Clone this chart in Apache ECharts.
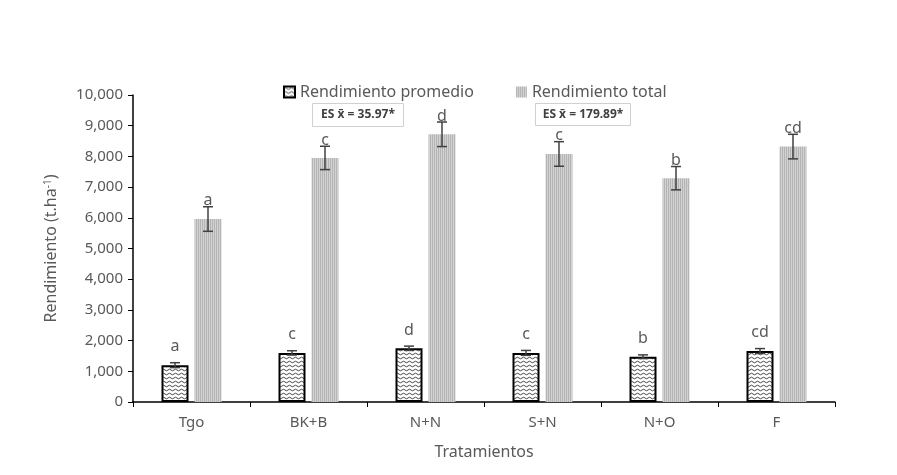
<!DOCTYPE html>
<html>
<head>
<meta charset="utf-8">
<script src="https://cdn.jsdelivr.net/npm/echarts@6/dist/echarts.min.js"></script>
<style>
  html, body { margin: 0; padding: 0; background: #fff; }
  #chart { width: 897px; height: 475px; }
</style>
</head>
<body>
<div id="chart"></div>
<script>
// datos
const categories = ['Tgo', 'BK+B', 'N+N', 'S+N', 'N+O', 'F'];
const promedio = [1200, 1600, 1750, 1600, 1475, 1660];
const promedioErr = [80, 70, 70, 80, 60, 80];
const total = [5960, 7950, 8720, 8080, 7290, 8320];
const totalErr = [400, 380, 400, 400, 380, 400];
const promedioLetters = ['a', 'c', 'd', 'c', 'b', 'cd'];
const totalLetters = ['a', 'c', 'd', 'c', 'b', 'cd'];
const yTicks = [0, 1000, 2000, 3000, 4000, 5000, 6000, 7000, 8000, 9000, 10000];

const FONT = 'Noto Sans';
const GREY = '#595959';

// patron ondulado (rendimiento promedio)
function wavyPattern() {
  const c = document.createElement('canvas');
  c.width = 6; c.height = 4;
  const ctx = c.getContext('2d');
  ctx.fillStyle = '#fff';
  ctx.fillRect(0, 0, 6, 4);
  ctx.strokeStyle = '#333';
  ctx.lineWidth = 0.9;
  ctx.beginPath();
  ctx.moveTo(0, 2);
  ctx.quadraticCurveTo(1.5, 0.4, 3, 2);
  ctx.quadraticCurveTo(4.5, 3.6, 6, 2);
  ctx.stroke();
  return c;
}
// patron de rayas verticales (rendimiento total)
function stripePattern() {
  const c = document.createElement('canvas');
  c.width = 2; c.height = 2;
  const ctx = c.getContext('2d');
  ctx.fillStyle = '#d2d2d2';
  ctx.fillRect(0, 0, 2, 2);
  ctx.fillStyle = '#b4b4b4';
  ctx.fillRect(0, 0, 1, 2);
  return c;
}

var chartDom = document.getElementById('chart');
var myChart = echarts.init(chartDom);

const barW = 27;
const gapPx = 6;
const off = (barW + gapPx) / 2;

function errorRender(dx, letters, labelLift) {
  return function (params, api) {
    const i = api.value(0);
    const v = api.value(1);
    const e = api.value(2);
    const top = api.coord([i, v + e]);
    const bot = api.coord([i, v - e]);
    const x = top[0] + dx;
    const st = { stroke: '#404040', lineWidth: 1.5 };
    return {
      type: 'group',
      children: [
        { type: 'line', shape: { x1: x, y1: top[1], x2: x, y2: bot[1] }, style: st },
        { type: 'line', shape: { x1: x - 5, y1: top[1], x2: x + 5, y2: top[1] }, style: st },
        { type: 'line', shape: { x1: x - 5, y1: bot[1], x2: x + 5, y2: bot[1] }, style: st },
        {
          type: 'text', x: x, y: top[1] - labelLift,
          style: { text: letters[params.dataIndex], align: 'center', verticalAlign: 'middle',
                   fill: GREY, font: '16px "' + FONT + '"' }
        }
      ]
    };
  };
}

var option = {
  animation: false,
  textStyle: { fontFamily: FONT },
  legend: {
    top: 79,
    left: 278,
    icon: 'rect',
    itemWidth: 11,
    itemHeight: 11,
    itemGap: 42,
    textStyle: { fontSize: 16, color: GREY, fontFamily: FONT },
    data: ['Rendimiento promedio', 'Rendimiento total']
  },
  grid: { left: 133, right: 62, top: 95, bottom: 73 },
  xAxis: {
    type: 'category',
    data: categories,
    name: 'Tratamientos',
    nameLocation: 'middle',
    nameGap: 42,
    nameTextStyle: { fontSize: 16, color: GREY },
    axisLine: { lineStyle: { color: '#000', width: 1.5 } },
    axisTick: { show: true, length: 5, lineStyle: { color: '#000' } },
    axisLabel: { fontSize: 15, color: GREY, margin: 13 }
  },
  yAxis: {
    type: 'value',
    min: yTicks[0],
    max: yTicks[yTicks.length - 1],
    interval: 1000,
    name: '{n|Rendimiento (t.ha}{s|-1}{n|)}',
    nameLocation: 'middle',
    nameGap: 74,
    nameTextStyle: {
      fontSize: 16, color: GREY,
      rich: {
        n: { fontSize: 16, color: GREY, fontFamily: FONT },
        s: { fontSize: 10, color: GREY, fontFamily: FONT, verticalAlign: 'top', padding: [0, 0, 6, 0] }
      }
    },
    axisLine: { show: true, lineStyle: { color: '#000', width: 1.5 } },
    axisTick: { show: true, length: 5, lineStyle: { color: '#000' } },
    splitLine: { show: false },
    axisLabel: {
      fontSize: 15, color: GREY, margin: 10,
      formatter: v => v.toLocaleString('en-US')
    }
  },
  graphic: [
    {
      type: 'group', left: 312, top: 103,
      children: [
        { type: 'rect', shape: { x: 0, y: 0, width: 91, height: 23 },
          style: { fill: '#fff', stroke: '#d0d0d0', lineWidth: 1 } },
        { type: 'text', x: 45.5, y: 11.5,
          style: { text: 'ES x̄ = 35.97*', align: 'center', verticalAlign: 'middle',
                   fill: '#404040', font: 'bold 12px "' + FONT + '"' } }
      ]
    },
    {
      type: 'group', left: 535, top: 103,
      children: [
        { type: 'rect', shape: { x: 0, y: 0, width: 95, height: 22 },
          style: { fill: '#fff', stroke: '#d0d0d0', lineWidth: 1 } },
        { type: 'text', x: 47.5, y: 11,
          style: { text: 'ES x̄ = 179.89*', align: 'center', verticalAlign: 'middle',
                   fill: '#404040', font: 'bold 12px "' + FONT + '"' } }
      ]
    }
  ],
  series: [
    {
      name: 'Rendimiento promedio',
      type: 'bar',
      barWidth: barW,
      barGap: (gapPx / barW * 100) + '%',
      data: promedio,
      itemStyle: {
        color: { image: wavyPattern(), repeat: 'repeat' },
        borderColor: '#000',
        borderWidth: 2
      }
    },
    {
      name: 'Rendimiento total',
      type: 'bar',
      barWidth: barW,
      data: total,
      itemStyle: {
        color: { image: stripePattern(), repeat: 'repeat' }
      }
    },
    {
      name: 'err_promedio',
      type: 'custom',
      z: 5,
      clip: false,
      renderItem: errorRender(-off, promedioLetters, 16),
      encode: { x: 0, y: 1 },
      data: categories.map((c, i) => [i, promedio[i], promedioErr[i]])
    },
    {
      name: 'err_total',
      type: 'custom',
      z: 5,
      clip: false,
      renderItem: errorRender(off, totalLetters, 6),
      encode: { x: 0, y: 1 },
      data: categories.map((c, i) => [i, total[i], totalErr[i]])
    }
  ]
};

option && myChart.setOption(option);
</script>
</body>
</html>
